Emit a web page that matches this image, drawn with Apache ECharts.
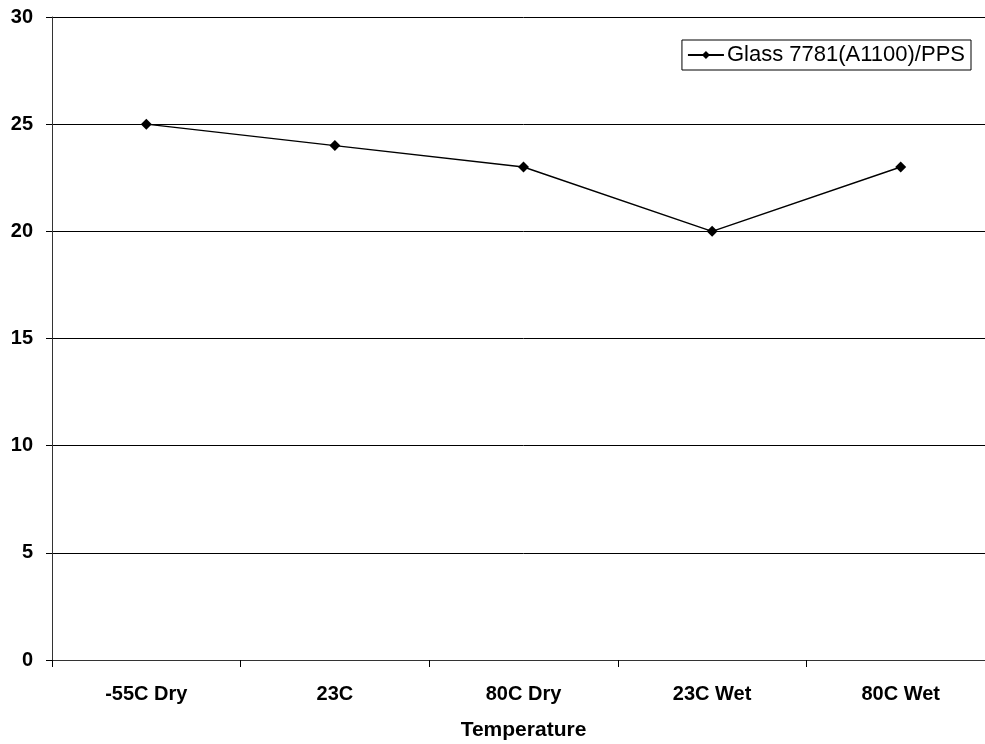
<!DOCTYPE html>
<html>
<head>
<meta charset="utf-8">
<style>
  html, body { margin: 0; padding: 0; background: #fff; overflow: hidden; width: 985px; height: 744px; }
  #frame { width: 985px; height: 744px; overflow: hidden; position: relative; }
  #chart { width: 1000px; height: 744px; position: absolute; left: 0; top: 0; }
</style>
<script src="https://cdn.jsdelivr.net/npm/echarts@6/dist/echarts.min.js"></script>
</head>
<body>
<div id="frame"><div id="chart"></div></div>
<script>
// Conditions tested and the measured values for the laminate
const categories = ['-55C Dry', '23C', '80C Dry', '23C Wet', '80C Wet'];
const seriesName = 'Glass 7781(A1100)/PPS';
const values = [25, 24, 23, 20, 23];
const yTicks = { min: 0, max: 30, interval: 5 };
const xTitle = 'Temperature';

const font = '"Liberation Sans", Arial, sans-serif';
const chart = echarts.init(document.getElementById('chart'), null, { renderer: 'canvas' });

chart.setOption({
  animation: false,
  backgroundColor: '#ffffff',
  textStyle: { fontFamily: font },
  grid: { left: 52, top: 17, right: 5, bottom: 84, containLabel: false, outerBoundsMode: 'none' },
  legend: {
    data: [seriesName],
    right: 29,
    top: 40,
    orient: 'vertical',
    borderColor: '#000',
    borderWidth: 1,
    padding: [4, 6, 4, 5],
    itemWidth: 36,
    itemHeight: 10,
    itemGap: 0,
    textStyle: { fontFamily: font, fontSize: 22, color: '#000', padding: [0, 0, 0, -2] }
  },
  xAxis: {
    type: 'category',
    data: categories,
    boundaryGap: true,
    name: xTitle,
    nameLocation: 'middle',
    nameGap: 60,
    nameTextStyle: { fontFamily: font, fontSize: 21, fontWeight: 'bold', color: '#000' },
    axisLine: { lineStyle: { color: '#333', width: 1 } },
    axisTick: { show: true, length: 7, lineStyle: { color: '#000' } },
    axisLabel: { fontFamily: font, fontSize: 20, fontWeight: 'bold', color: '#000', margin: 24 },
    splitLine: { show: false }
  },
  yAxis: {
    type: 'value',
    min: yTicks.min,
    max: yTicks.max,
    interval: yTicks.interval,
    axisLine: { show: true, lineStyle: { color: '#333', width: 1 } },
    axisTick: { show: true, length: 6, lineStyle: { color: '#000' } },
    axisLabel: { fontFamily: font, fontSize: 20, fontWeight: 'bold', color: '#000', margin: 19 },
    splitLine: { show: true, lineStyle: { color: '#000', width: 1 } }
  },
  series: [{
    name: seriesName,
    type: 'line',
    data: values,
    symbol: 'diamond',
    symbolSize: 11,
    itemStyle: { color: '#000' },
    lineStyle: { color: '#000', width: 1.4 }
  }]
});
</script>
</body>
</html>
